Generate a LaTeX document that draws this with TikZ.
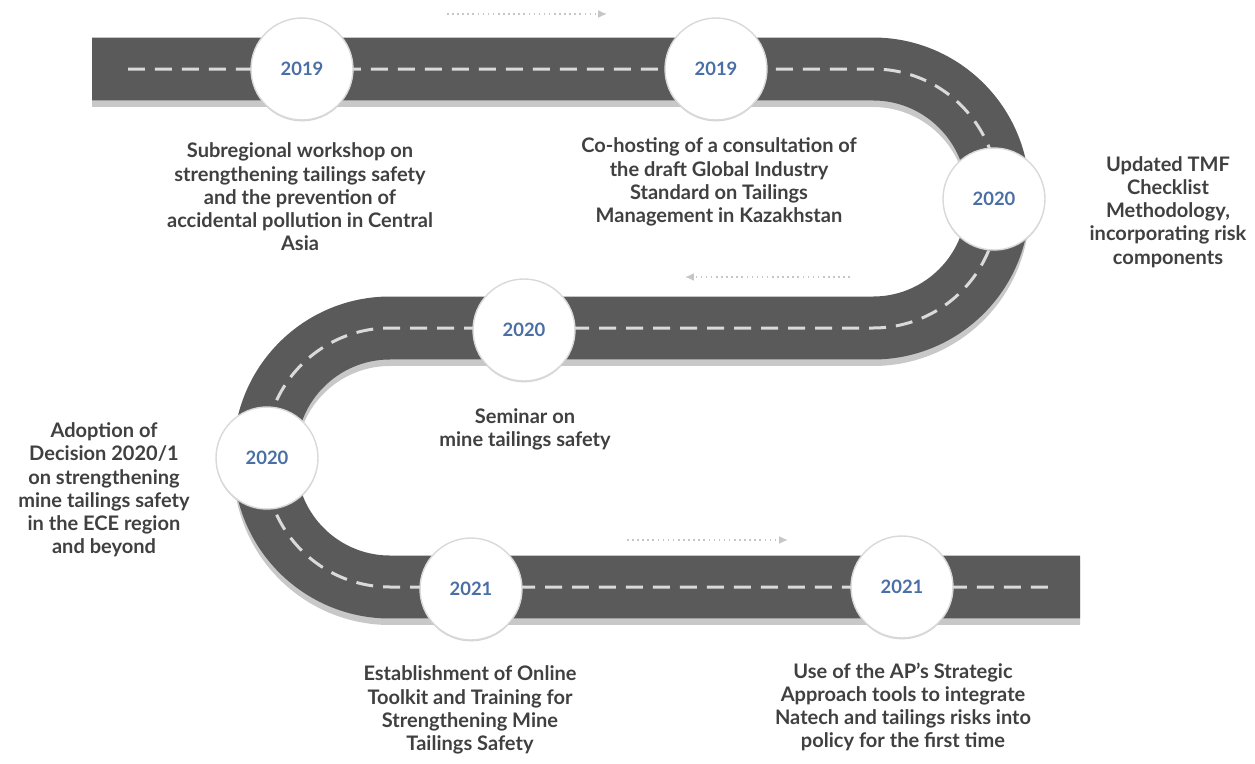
\documentclass[tikz,border=0pt]{standalone}
\usepackage{fontspec}
\setmainfont{Lato}
\usetikzlibrary{arrows.meta,shadows}
\definecolor{road}{HTML}{5A5A5A}
\definecolor{roadsh}{HTML}{C8C8C8}
\definecolor{lane}{HTML}{DADADA}
\definecolor{yrblue}{HTML}{4A6FA5}
\definecolor{txt}{HTML}{404040}
\tikzset{
  rd/.style    = {line width=1.26cm, draw=road, rounded corners=2.5cm},
  rdsh/.style  = {line width=1.26cm, draw=roadsh, rounded corners=2.5cm},
  lane/.style  = {line width=0.06cm, draw=lane, rounded corners=2.5cm,
                  dash pattern=on 0.34cm off 0.2cm},
  yr/.style    = {circle, fill=white, draw=gray!30, line width=0.8pt,
                  minimum size=2.04cm, inner sep=0pt, text=yrblue,
                  font=\bfseries\fontsize{10.5}{12}\selectfont,
                  drop shadow={opacity=0.35, shadow xshift=0pt, shadow yshift=-0.8pt}},
  lbl/.style   = {align=center, text=txt,
                  font=\bfseries\fontsize{11.4}{13.2}\selectfont},
  dir/.style   = {draw=gray!45, line width=0.9pt, dotted,
                  -{Latex[length=5pt,width=4.5pt]}},
}

\begin{document}
\begin{tikzpicture}[x=0.02cm, y=-0.02cm]
  \useasboundingbox (0,0) rectangle (1255,764);

  % road
  \draw[rdsh, yshift=-0.13cm] (92,69) -- (998,69) -- (998,328) -- (265,328) -- (265,587) -- (1080,587);
  \draw[rd] (92,69) -- (998,69) -- (998,328) -- (265,328) -- (265,587) -- (1080,587);
  \draw[lane] (128,69) -- (998,69) -- (998,328) -- (265,328) -- (265,587) -- (1052,587);

  % direction arrows
  \coordinate (d1s) at (447,14);  \coordinate (d1e) at (607,14);
  \coordinate (d2s) at (850,277); \coordinate (d2e) at (685,277);
  \coordinate (d3s) at (627,540); \coordinate (d3e) at (788,540);
  \draw[dir] (d1s) -- (d1e);
  \draw[dir] (d2s) -- (d2e);
  \draw[dir] (d3s) -- (d3e);

  % milestones
  \node[yr] (y19a) at (302,69)  {2019};
  \node[yr] (y19b) at (716,69)  {2019};
  \node[yr] (y20a) at (994,199) {2020};
  \node[yr] (y20b) at (524,330) {2020};
  \node[yr] (y20c) at (267,458) {2020};
  \node[yr] (y21a) at (471,589) {2021};
  \node[yr] (y21b) at (902,587) {2021};

  % descriptions
  \node[lbl] (t19a) at (300,197) {Subregional workshop on\\strengthening tailings safety\\and the prevention of\\accidental pollution in Central\\Asia};
  \node[lbl] (t19b) at (719,182) {Co-hosting of a consultation of\\the draft Global Industry\\Standard on Tailings\\Management in Kazakhstan};
  \node[lbl] (t20a) at (1168,212) {Updated TMF\\Checklist\\Methodology,\\incorporating risk\\components};
  \node[lbl] (t20b) at (525,429) {Seminar on\\mine tailings safety};
  \node[lbl] (t20c) at (104,490) {Adoption of\\Decision 2020/1\\on strengthening\\mine tailings safety\\in the ECE region\\and beyond};
  \node[lbl] (t21a) at (470,710) {Establishment of Online\\Toolkit and Training for\\Strengthening Mine\\Tailings Safety};
  \node[lbl] (t21b) at (903,707) {Use of the AP’s Strategic\\Approach tools to integrate\\Natech and tailings risks into\\policy for the first time};
\end{tikzpicture}
\end{document}
